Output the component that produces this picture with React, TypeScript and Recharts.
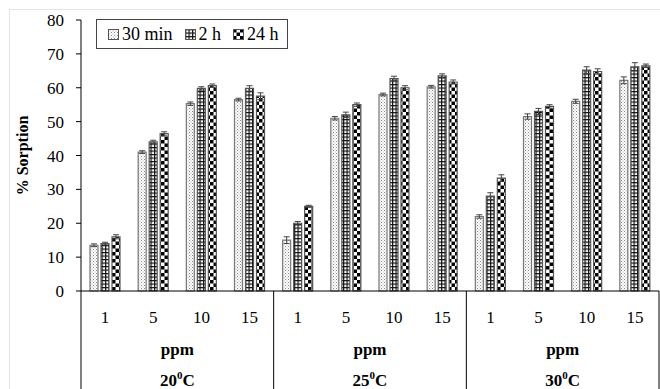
import { BarChart, Bar, XAxis, YAxis, ErrorBar, Legend } from "recharts";

const FONT = '"Liberation Serif", "Times New Roman", serif';

// groups and categories
const temps = ["20", "25", "30"];
const ppmLevels = ["1", "5", "10", "15"];
const seriesNames = ["30 min", "2 h", "24 h"];
const yTicks = [0, 10, 20, 30, 40, 50, 60, 70, 80];

// % sorption (20°C x4, 25°C x4, 30°C x4)
const sorb30min = [13.5, 41, 55.3, 56.5, 15, 51, 58, 60.3, 22, 51.5, 56, 62.2];
const sorb2h = [14, 44, 59.8, 59.8, 20, 52, 62.7, 63.5, 28, 53, 65.2, 66.2];
const sorb24h = [16, 46.5, 60.6, 57.5, 25, 55, 60, 61.7, 33.3, 54.5, 64.8, 66.5];

// error bars
const err30min = [0.4, 0.4, 0.5, 0.4, 1, 0.5, 0.4, 0.4, 0.5, 0.8, 0.6, 1];
const err2h = [0.4, 0.5, 0.5, 0.8, 0.5, 0.8, 0.7, 0.6, 1, 0.9, 1, 1.2];
const err24h = [0.6, 0.5, 0.5, 1, 0.3, 0.5, 0.6, 0.6, 1, 0.5, 0.8, 0.5];

const data = temps.flatMap((t, ti) =>
  ppmLevels.map((p, pi) => {
    const i = ti * ppmLevels.length + pi;
    return {
      key: `${t}-${p}`,
      temp: t,
      ppm: p,
      m30: sorb30min[i],
      h2: sorb2h[i],
      h24: sorb24h[i],
      e30: err30min[i],
      e2: err2h[i],
      e24: err24h[i],
    };
  })
);

const fills = ["url(#dots)", "url(#grid)", "url(#checker)"];

function PpmTick(props: any) {
  const { x, y, payload } = props;
  const idx = data.findIndex((d) => d.key === payload.value);
  const row = data[idx];
  const half = payload.offset || 0;
  const pos = idx % ppmLevels.length;
  return (
    <g fontFamily={FONT} fill="#000">
      <text x={x} y={y + 32} textAnchor="middle" fontSize={17}>
        {row.ppm}
      </text>
      {pos === 0 && <line x1={x - half} x2={x - half} y1={y} y2={y + 100} stroke="#000" />}
      {idx === data.length - 1 && <line x1={x + half} x2={x + half} y1={y} y2={y + 100} stroke="#000" />}
      {pos === 1 && (
        <g fontWeight="bold" fontSize={17} textAnchor="middle">
          <text x={x + half} y={y + 64}>ppm</text>
          <text x={x + half} y={y + 95}>
            {row.temp}
            <tspan fontSize={11} dy={-7}>0</tspan>
            <tspan dy={7}>C</tspan>
          </text>
        </g>
      )}
    </g>
  );
}

function LegendBox() {
  return (
    <div
      style={{
        border: "1px solid #444",
        background: "#fff",
        display: "flex",
        alignItems: "center",
        height: 28,
        padding: "0 8px 0 11px",
        fontFamily: FONT,
        fontSize: 18,
        color: "#000",
        whiteSpace: "nowrap",
      }}
    >
      {seriesNames.map((name, i) => (
        <span key={name} style={{ display: "flex", alignItems: "center", marginRight: i < 2 ? 12 : 0 }}>
          <svg width={11} height={11} style={{ marginRight: 3 }}>
            <rect x={0.5} y={0.5} width={10} height={10} fill={fills[i]} stroke="#555" />
          </svg>
          {name}
        </span>
      ))}
    </div>
  );
}

export default function App() {
  return (
    <div style={{ position: "absolute", left: 0, top: 0, width: 660, height: 389, background: "#fff" }}>
      <div
        style={{
          position: "absolute",
          left: 9,
          top: 9,
          right: 0,
          bottom: 0,
          borderLeft: "1px solid #e4e4e4",
          borderTop: "1px solid #e4e4e4",
        }}
      />
      <BarChart
        width={660}
        height={389}
        data={data}
        margin={{ top: 20, right: 1, bottom: 0, left: 0 }}
        barSize={8}
        barGap={3}
        style={{ position: "absolute", left: 0, top: 0 }}
      >
        <defs>
          <pattern id="dots" width={3} height={3} patternUnits="userSpaceOnUse">
            <rect width={3} height={3} fill="#fff" />
            <rect x={0} y={0} width={1} height={1} fill="#888" />
            <rect x={1.5} y={1.5} width={1} height={1} fill="#aaa" />
          </pattern>
          <pattern id="grid" width={3.5} height={3.5} patternUnits="userSpaceOnUse">
            <rect width={3.5} height={3.5} fill="#fff" />
            <rect x={0} y={0} width={3.5} height={1.2} fill="#111" />
            <rect x={0} y={0} width={1.2} height={3.5} fill="#111" />
          </pattern>
          <pattern id="checker" width={7} height={7} patternUnits="userSpaceOnUse">
            <rect width={7} height={7} fill="#fff" />
            <rect x={0} y={0} width={3.5} height={3.5} fill="#000" />
            <rect x={3.5} y={3.5} width={3.5} height={3.5} fill="#000" />
          </pattern>
        </defs>
        <XAxis
          dataKey="key"
          interval={0}
          tickLine={false}
          tickSize={0}
          tickMargin={0}
          height={98}
          axisLine={{ stroke: "#000" }}
          tick={<PpmTick />}
        />
        <YAxis
          domain={[0, 80]}
          ticks={yTicks}
          width={81}
          tickSize={5}
          tickMargin={12}
          axisLine={{ stroke: "#000" }}
          tickLine={{ stroke: "#000" }}
          tick={{ fill: "#000", fontSize: 17, fontFamily: FONT }}
          label={{
            value: "% Sorption",
            angle: -90,
            position: "insideLeft",
            offset: 22,
            style: { textAnchor: "middle", fontFamily: FONT, fontWeight: "bold", fontSize: 16, fill: "#000" },
          }}
        />
        <Legend
          layout="vertical"
          align="center"
          verticalAlign="middle"
          content={<LegendBox />}
          wrapperStyle={{ position: "absolute", top: 19, left: 96, width: "auto" }}
        />
        <Bar dataKey="m30" name={seriesNames[0]} fill={fills[0]} stroke="#777" strokeWidth={1.2} isAnimationActive={false}>
          <ErrorBar dataKey="e30" width={3} stroke="#444" strokeWidth={1} />
        </Bar>
        <Bar dataKey="h2" name={seriesNames[1]} fill={fills[1]} stroke="#555" strokeWidth={1.2} isAnimationActive={false}>
          <ErrorBar dataKey="e2" width={3} stroke="#444" strokeWidth={1} />
        </Bar>
        <Bar dataKey="h24" name={seriesNames[2]} fill={fills[2]} stroke="#555" strokeWidth={1.2} isAnimationActive={false}>
          <ErrorBar dataKey="e24" width={3} stroke="#444" strokeWidth={1} />
        </Bar>
      </BarChart>
    </div>
  );
}
